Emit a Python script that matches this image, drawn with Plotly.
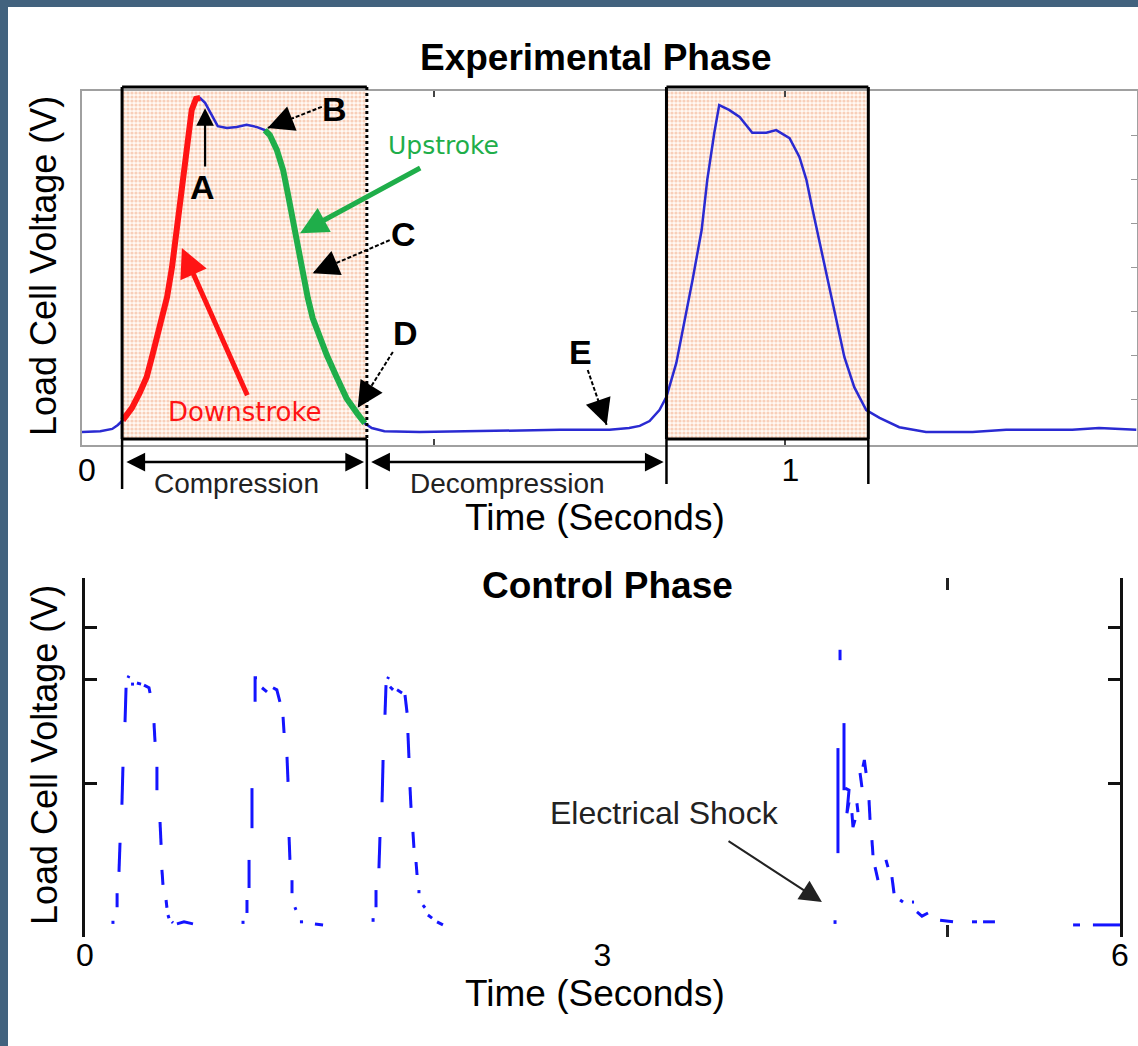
import math
import plotly.graph_objects as go

# ---------------- data ----------------
# Experimental phase: load cell voltage (V) against time (s)
exp_t = [0.000, 0.026, 0.043, 0.051, 0.058, 0.071, 0.082, 0.092, 0.101, 0.111, 0.121, 0.128,
         0.135, 0.142, 0.149, 0.156, 0.162, 0.168, 0.175, 0.182, 0.193, 0.206, 0.220, 0.234,
         0.249, 0.260, 0.267, 0.277, 0.286, 0.293, 0.300, 0.307, 0.314, 0.321, 0.328, 0.338,
         0.348, 0.362, 0.376, 0.391, 0.402, 0.412, 0.430, 0.480, 0.551, 0.622, 0.679, 0.750,
         0.778, 0.793, 0.807, 0.821, 0.831, 0.845, 0.859, 0.868, 0.881, 0.889, 0.899, 0.906,
         0.920, 0.935, 0.953, 0.973, 0.987, 1.006, 1.020, 1.030, 1.038, 1.048, 1.060, 1.072,
         1.084, 1.098, 1.115, 1.134, 1.162, 1.200, 1.266, 1.314, 1.408, 1.446, 1.499]
exp_v = [0.25, 0.27, 0.32, 0.41, 0.52, 0.80, 1.14, 1.50, 2.05, 2.64, 3.32, 4.00,
         4.84, 5.75, 6.73, 7.57, 7.82, 7.84, 7.73, 7.52, 7.20, 7.16, 7.18, 7.23,
         7.18, 7.11, 7.00, 6.66, 6.20, 5.64, 5.02, 4.39, 3.82, 3.30, 2.84, 2.41,
         2.00, 1.50, 1.02, 0.68, 0.45, 0.34, 0.27, 0.25, 0.27, 0.30, 0.30, 0.30,
         0.34, 0.39, 0.50, 0.75, 1.05, 1.82, 2.95, 3.70, 4.84, 5.98, 7.05, 7.68,
         7.57, 7.41, 7.05, 7.05, 7.11, 6.93, 6.50, 5.98, 5.36, 4.61, 3.70, 2.80,
         1.95, 1.27, 0.75, 0.57, 0.36, 0.25, 0.25, 0.30, 0.30, 0.34, 0.30]

downstroke_window = (0.058, 0.168)
upstroke_window = (0.260, 0.402)
compression_windows = [(0.057, 0.405), (0.831, 1.118)]
decompression_window = (0.405, 0.831)
# span labels: (text, window, label time)
span_labels = [("Compression", compression_windows[0], 0.220),
               ("Decompression", decompression_window, 0.605)]

# Control phase: sampled load cell voltage, None marks gaps in the recording
ctrl_t = [
    0.162, 0.162, None, 0.186, 0.186, None, 0.197, 0.203, None, 0.214, 0.220, None,
    0.232, 0.238, None, 0.249, 0.255, None, 0.267, 0.284, None, 0.301, 0.325, None,
    0.342, 0.371, 0.377, None, 0.400, 0.406, None, 0.417, 0.417, None, 0.435, 0.441, None,
    0.446, 0.452, None, 0.470, 0.475, None, 0.481, 0.487, None, 0.504, 0.510, None,
    0.533, 0.574, 0.626, None,
    0.916, 0.916, None, 0.939, 0.939, None, 0.951, 0.951, None, 0.968, 0.968, None,
    0.986, 0.986, 0.997, None, 1.026, 1.055, None, 1.090, 1.112, 1.130, None,
    1.148, 1.154, None, 1.171, 1.177, None, 1.183, 1.188, None, 1.200, 1.200, None,
    1.217, 1.223, None, 1.246, 1.264, None, 1.333, 1.380, None,
    1.670, 1.670, None, 1.687, 1.687, None, 1.704, 1.710, None, 1.722, 1.728, None,
    1.739, 1.745, None, 1.754, 1.760, None, 1.768, 1.786, None, 1.809, 1.838, None,
    1.855, 1.867, None, 1.872, 1.878, None, 1.884, 1.890, None, 1.901, 1.907, None,
    1.919, 1.925, None, 1.936, 1.936, None, 1.959, 1.971, None, 1.988, 2.012, None,
    2.041, 2.075, None,
    4.348, 4.348, None, 4.365, 4.365, None, 4.377, 4.377, None, 4.400, 4.400, None,
    4.406, 4.429, 4.417, 4.429, None, 4.446, 4.452, 4.464, None, 4.475, 4.481, None,
    4.493, 4.504, None, 4.510, 4.518, 4.528, None, 4.545, 4.551, None, 4.562, 4.568, None,
    4.580, 4.597, None, 4.643, 4.655, None, 4.678, 4.690, None, 4.725, 4.742, None,
    4.794, 4.806, None, 4.823, 4.852, 4.887, None, 4.957, 5.032, None, 5.142, 5.171, None,
    5.206, 5.275, None, 5.728, 5.768, None, 5.843, 6.000]
ctrl_v = [
    0.37, 0.31, None, 0.63, 0.90, None, 1.31, 1.87, None, 2.60, 3.33, None,
    4.19, 4.85, None, 5.04, 5.08, None, 4.92, 4.92, None, 4.94, 4.92, None,
    4.90, 4.85, 4.75, None, 4.17, 3.81, None, 3.33, 2.88, None, 2.27, 1.83, None,
    1.35, 1.06, None, 0.77, 0.62, None, 0.48, 0.42, None, 0.35, 0.33, None,
    0.31, 0.35, 0.31, None,
    0.37, 0.31, None, 0.52, 0.77, None, 1.00, 1.54, None, 2.15, 2.92, None,
    4.58, 5.04, 5.04, None, 4.85, 4.77, None, 4.85, 4.81, 4.58, None,
    4.29, 3.98, None, 3.52, 3.04, None, 1.98, 1.54, None, 1.15, 0.90, None,
    0.63, 0.58, None, 0.35, 0.35, None, 0.31, 0.29, None,
    0.42, 0.35, None, 0.63, 0.96, None, 1.38, 1.98, None, 2.65, 3.46, None,
    4.33, 4.90, None, 5.02, 5.06, None, 4.87, 4.81, None, 4.81, 4.75, None,
    4.71, 4.37, None, 3.98, 3.50, None, 2.94, 2.54, None, 2.08, 1.77, None,
    1.50, 1.25, None, 0.96, 0.90, None, 0.67, 0.62, None, 0.48, 0.42, None,
    0.35, 0.29, None,
    0.38, 0.31, None, 3.69, 1.67, None, 5.58, 5.38, None, 4.17, 2.88, None,
    2.92, 2.88, 2.44, 2.65, None, 2.44, 2.17, 2.31, None, 2.63, 2.46, None,
    3.21, 2.94, None, 3.33, 3.46, 3.21, None, 2.69, 2.31, None, 1.92, 1.63, None,
    1.40, 1.15, None, 1.54, 1.40, None, 1.21, 0.90, None, 0.77, 0.73, None,
    0.73, 0.73, None, 0.54, 0.46, 0.52, None, 0.38, 0.35, None, 0.35, 0.35, None,
    0.35, 0.35, None, 0.29, 0.29, None, 0.29, 0.29]

# point labels on the experimental trace: (label, t, v)
point_labels = [("A", 0.172, 5.82), ("B", 0.359, 7.59), ("C", 0.457, 4.75),
                ("D", 0.460, 2.50), ("E", 0.709, 2.07)]
# pointer arrows: (tail t, tail v, head t, head v, dashed)
pointers = [(0.175, 6.25, 0.175, 7.61, False),
            (0.341, 7.64, 0.264, 7.16, True),
            (0.4375, 4.61, 0.328, 3.86, True),
            (0.442, 2.07, 0.392, 0.80, True),
            (0.719, 1.66, 0.746, 0.41, True)]

# ---------------- layout helpers ----------------
W, H = 1138, 1046
FONT = "Liberation Sans, Arial, sans-serif"


def fx(p):
    return p / W


def fy(p):
    return 1 - p / H


TOP_X = (82, 1137)
TOP_Y = (91, 445)
BOT_X = (85, 1120)
BOT_Y = (578, 937)
TOP_RANGE_Y = [-0.045, 8.0]
BOT_RANGE_Y = [0.058, 6.96]

BLUE = "#2a2ad2"
RED = "#ff1414"
GREEN = "#1fae4a"

fig = go.Figure()

# compression windows (dotted peach fill)
for a, b in compression_windows:
    fig.add_trace(go.Scatter(
        x=[a, b, b, a, a], y=[0.09, 0.09, 8.1, 8.1, 0.09],
        mode="none", fill="toself", hoverinfo="skip", showlegend=False,
        fillcolor="rgba(0,0,0,0)",
        fillpattern=dict(shape=".", fgcolor="#f2a57e", bgcolor="#fff9f4", size=4, solidity=0.5),
        xaxis="x", yaxis="y"))


def in_window(w):
    idx = [i for i, t in enumerate(exp_t) if w[0] <= t <= w[1]]
    return [exp_t[i] for i in idx], [exp_v[i] for i in idx]


fig.add_trace(go.Scatter(x=exp_t, y=exp_v, mode="lines", line=dict(color=BLUE, width=2.5),
                         showlegend=False, xaxis="x", yaxis="y"))
dt, dv = in_window(downstroke_window)
fig.add_trace(go.Scatter(x=dt, y=dv, mode="lines", line=dict(color=RED, width=6),
                         showlegend=False, xaxis="x", yaxis="y"))
ut, uv = in_window(upstroke_window)
fig.add_trace(go.Scatter(x=ut, y=uv, mode="lines", line=dict(color=GREEN, width=6),
                         showlegend=False, xaxis="x", yaxis="y"))
# keep the extra tick-only axes alive
fig.add_trace(go.Scatter(x=[None], y=[None], showlegend=False, xaxis="x", yaxis="y2"))
fig.add_trace(go.Scatter(x=[None], y=[None], showlegend=False, xaxis="x3", yaxis="y3"))

fig.add_trace(go.Scatter(x=ctrl_t, y=ctrl_v, mode="lines", connectgaps=False,
                         line=dict(color="#1414ff", width=3),
                         showlegend=False, xaxis="x2", yaxis="y3"))

shapes = [dict(type="rect", xref="paper", yref="paper", x0=fx(8), x1=1, y0=0, y1=fy(7),
               fillcolor="white", line=dict(width=0), layer="below")]

box_top, box_bot = fy(87), fy(439)
for k, (a, b) in enumerate(compression_windows):
    low = fy(489) if k == 0 else fy(484)
    shapes.append(dict(type="line", xref="x", yref="paper", x0=a, x1=b, y0=box_top, y1=box_top,
                       line=dict(color="black", width=3)))
    shapes.append(dict(type="line", xref="x", yref="paper", x0=a, x1=b, y0=box_bot, y1=box_bot,
                       line=dict(color="black", width=3)))
    shapes.append(dict(type="line", xref="x", yref="paper", x0=a, x1=a, y0=box_top, y1=box_bot,
                       line=dict(color="black", width=3)))
    shapes.append(dict(type="line", xref="x", yref="paper", x0=b, x1=b, y0=box_top, y1=box_bot,
                       line=dict(color="black", width=3, dash="dot" if k == 0 else "solid")))
    shapes.append(dict(type="line", xref="x", yref="paper", x0=a, x1=a, y0=box_bot, y1=low,
                       line=dict(color="black", width=2.5)))
    shapes.append(dict(type="line", xref="x", yref="paper", x0=b, x1=b, y0=box_bot, y1=low,
                       line=dict(color="black", width=2.5)))

annotations = []


def note(**kw):
    kw.setdefault("xanchor", "center")
    kw.setdefault("yanchor", "middle")
    annotations.append(kw)


# pointer arrows (dashed shafts drawn as shapes, heads as short arrows)
for t0, v0, t1, v1, dashed in pointers:
    if dashed:
        shapes.append(dict(type="line", xref="x", yref="y", x0=t0, y0=v0, x1=t1, y1=v1,
                           line=dict(color="black", width=2, dash="4px,2px")))
        ddx, ddy = (t0 - t1) * 704, -(v0 - v1) * 44
        n = math.hypot(ddx, ddy)
        note(x=t1, y=v1, xref="x", yref="y", axref="pixel", ayref="pixel",
             ax=ddx / n * 14, ay=ddy / n * 14, text="", showarrow=True,
             arrowhead=2, arrowsize=2.6, arrowwidth=2, arrowcolor="black")
    else:
        note(x=t1, y=v1, xref="x", yref="y", axref="x", ayref="y",
             ax=t0, ay=v0, text="", showarrow=True,
             arrowhead=2, arrowsize=1.6, arrowwidth=2.2, arrowcolor="black")

for lab, t, v in point_labels:
    note(x=t, y=v, xref="x", yref="y", text=f"<b>{lab}</b>", showarrow=False,
         font=dict(family="Liberation Sans Narrow, " + FONT, size=34, color="black"))

note(x=0.514, y=6.77, xref="x", yref="y", text="Upstroke", showarrow=False,
     font=dict(family="DejaVu Sans", size=25, color=GREEN))
note(x=0.310, y=4.77, xref="x", yref="y", axref="x", ayref="y", ax=0.483, ay=6.27,
     text="", showarrow=True, arrowhead=2, arrowsize=1.1, arrowwidth=5, arrowcolor=GREEN)
note(x=0.2315, y=0.70, xref="x", yref="y", text="Downstroke", showarrow=False,
     font=dict(family="DejaVu Sans", size=26, color=RED))
note(x=0.142, y=4.43, xref="x", yref="y", axref="x", ayref="y", ax=0.236, ay=1.05,
     text="", showarrow=True, arrowhead=2, arrowsize=1.15, arrowwidth=5, arrowcolor=RED)

# compression / decompression spans
arrow_y = fy(462)
for name, (a, b), t_lab in span_labels:
    note(x=b - 0.004, y=arrow_y, xref="x", yref="paper", axref="x", ayref="pixel",
         ax=a + 0.004, ay=0, text="", showarrow=True, arrowside="end+start",
         arrowhead=2, startarrowhead=2, arrowsize=1.5, startarrowsize=1.5,
         arrowwidth=2.5, arrowcolor="black")
    note(x=t_lab, y=fy(483), xref="x", yref="paper", text=name,
         showarrow=False, font=dict(family=FONT, size=28, color="#222"))

# electrical shock marker
note(x=3.362, y=2.44, xref="x2", yref="y3", text="Electrical Shock", showarrow=False,
     font=dict(family=FONT, size=32, color="#222"))
note(x=4.272, y=0.73, xref="x2", yref="y3", axref="x2", ayref="y3", ax=3.722, ay=1.92,
     text="", showarrow=True, arrowhead=2, arrowsize=2.2, arrowwidth=2, arrowcolor="#222")

# titles and axis titles
note(x=fx(596), y=fy(58), xref="paper", yref="paper", text="<b>Experimental Phase</b>",
     showarrow=False, font=dict(family=FONT, size=37, color="black"))
note(x=fx(607), y=fy(585), xref="paper", yref="paper", text="<b>Control Phase</b>",
     showarrow=False, font=dict(family=FONT, size=37, color="black"))
for yc in (517, 993):
    note(x=fx(595), y=fy(yc), xref="paper", yref="paper", text="Time (Seconds)",
         showarrow=False, font=dict(family=FONT, size=37, color="black"))
for yc in (266, 755):
    note(x=fx(44), y=fy(yc), xref="paper", yref="paper", text="Load Cell Voltage (V)",
         textangle=-90, showarrow=False, font=dict(family=FONT, size=36, color="black"))

fig.update_layout(
    width=W, height=H, autosize=False,
    margin=dict(l=0, r=0, t=0, b=0, pad=0, autoexpand=False),
    paper_bgcolor="#42627e", plot_bgcolor="white",
    showlegend=False,
    shapes=shapes, annotations=annotations,
    xaxis=dict(domain=[fx(TOP_X[0]), fx(TOP_X[1])], anchor="y", range=[0, 1.5],
               tickvals=[0, 0.5, 1], ticktext=["0", "", "1"], ticks="inside", ticklen=6,
               tickcolor="#444", tickwidth=2, showline=True, mirror="ticks",
               linecolor="#a0a0a0", linewidth=2, showgrid=False, zeroline=False,
               tickfont=dict(family=FONT, size=32, color="black"), ticklabelstandoff=-4,
               ticklabelshift=5, automargin=False),
    yaxis=dict(domain=[fy(TOP_Y[1]), fy(TOP_Y[0])], anchor="x", range=TOP_RANGE_Y,
               showline=True, mirror=True, linecolor="#a0a0a0", linewidth=2,
               ticks="", showticklabels=False, showgrid=False, zeroline=False, automargin=False),
    yaxis2=dict(overlaying="y", side="right", anchor="x", range=TOP_RANGE_Y,
                tickvals=[1, 2, 3, 4, 5, 6, 7], ticks="inside", ticklen=6, tickcolor="#999",
                showticklabels=False, showline=False, showgrid=False, zeroline=False,
                automargin=False),
    xaxis2=dict(domain=[fx(BOT_X[0]), fx(BOT_X[1])], anchor="y3", range=[0, 6],
                tickvals=[0, 3, 6], ticks="", showline=False,
                showgrid=False, zeroline=False, automargin=False,
                minor=dict(tickvals=[5], ticks="inside", ticklen=12, tickwidth=3, tickcolor="#222"),
                tickfont=dict(family=FONT, size=32, color="black"), ticklabelstandoff=-4),
    xaxis3=dict(overlaying="x2", side="top", anchor="y3", range=[0, 6],
                tickvals=[5], ticks="inside", ticklen=12, tickwidth=3, tickcolor="#222",
                showticklabels=False, showline=False, showgrid=False, zeroline=False,
                automargin=False),
    yaxis3=dict(domain=[fy(BOT_Y[1]), fy(BOT_Y[0])], anchor="x2", range=BOT_RANGE_Y,
                showline=True, mirror="ticks", linecolor="#111", linewidth=3,
                tickvals=[3, 5, 6], ticks="inside", ticklen=12, tickwidth=3, tickcolor="#111",
                showticklabels=False, showgrid=False, zeroline=False, automargin=False),
)

fig.write_html("out.html", config={"responsive": False},
               post_script="document.body.style.margin='0';"
                           "document.documentElement.style.overflow='hidden';")
